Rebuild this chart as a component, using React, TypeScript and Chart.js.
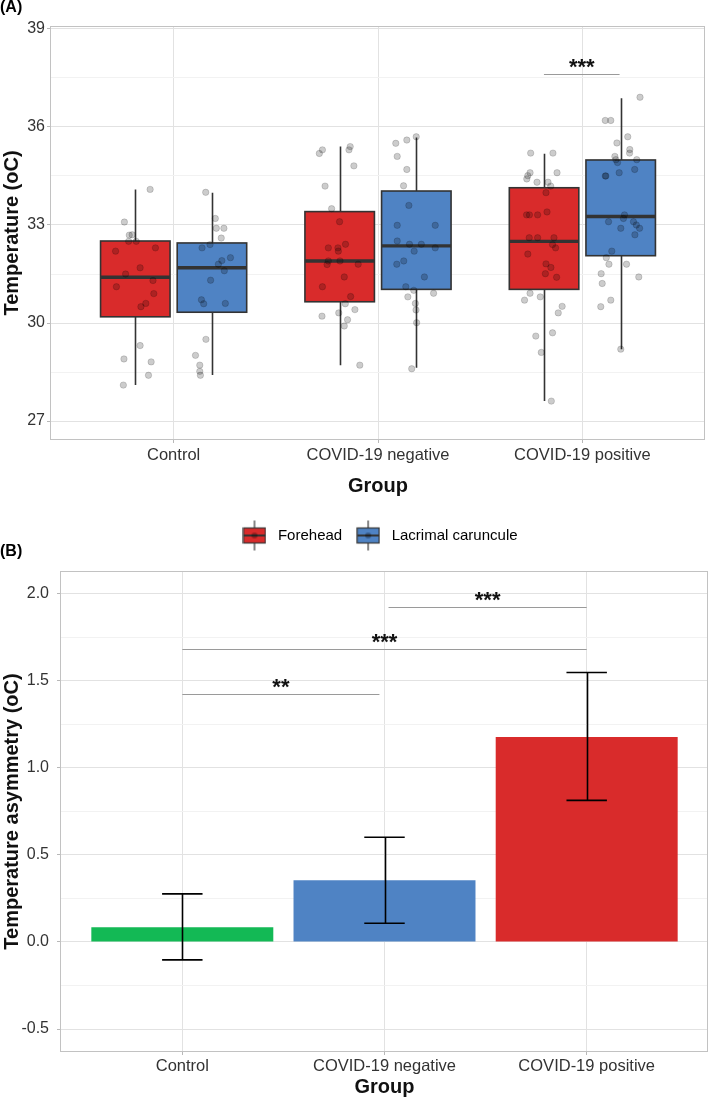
import React, { useEffect, useRef } from 'react';
import { Chart, registerables } from 'chart.js';

Chart.register(...registerables);

const FONT = '"Liberation Sans", Arial, Helvetica, sans-serif';
Chart.defaults.font.family = FONT;

// ---------- Panel A data ----------
const groups = ['Control', 'COVID-19 negative', 'COVID-19 positive'];
const sites = ['Forehead', 'Lacrimal caruncule'];

// [min, q1, median, q3, max]
const foreheadBox = [
  [28.1, 30.19, 31.4, 32.51, 34.09],
  [28.71, 30.65, 31.9, 33.41, 35.4],
  [27.61, 31.03, 32.5, 34.14, 35.18],
];
const lacrimalBox = [
  [28.41, 30.33, 31.69, 32.45, 33.99],
  [28.63, 31.03, 32.36, 34.04, 35.68],
  [29.2, 32.06, 33.26, 34.99, 36.88],
];

// [jitter offset from group centre (category units), temperature]
const foreheadPoints = [
  [[-0.115, 34.09], [-0.241, 33.09], [-0.217, 32.69], [-0.203, 32.7], [-0.22, 32.5], [-0.183, 32.5], [-0.284, 32.2], [-0.089, 32.3], [-0.164, 31.69], [-0.235, 31.5], [-0.101, 31.3], [-0.28, 31.11], [-0.097, 30.9], [-0.136, 30.6], [-0.16, 30.5], [-0.164, 29.31], [-0.243, 28.9], [-0.11, 28.81], [-0.123, 28.4], [-0.246, 28.1]],
  [[-0.287, 35.19], [-0.272, 35.3], [-0.142, 35.3], [-0.136, 35.4], [-0.118, 34.81], [-0.259, 34.19], [-0.227, 33.5], [-0.188, 33.1], [-0.159, 32.41], [-0.243, 32.3], [-0.196, 32.3], [-0.194, 32.2], [-0.243, 31.9], [-0.249, 31.79], [-0.186, 31.9], [-0.097, 31.8], [-0.165, 31.41], [-0.272, 31.11], [-0.134, 30.81], [-0.16, 30.59], [-0.274, 30.21], [-0.192, 30.31], [-0.113, 30.41], [-0.149, 30.1], [-0.165, 29.91], [-0.089, 28.71]],
  [[-0.253, 35.2], [-0.144, 35.2], [-0.256, 34.6], [-0.267, 34.51], [-0.272, 34.41], [-0.124, 34.6], [-0.222, 34.31], [-0.168, 34.31], [-0.155, 34.19], [-0.178, 33.99], [-0.173, 33.4], [-0.273, 33.31], [-0.259, 33.31], [-0.219, 33.31], [-0.26, 32.61], [-0.219, 32.61], [-0.139, 32.61], [-0.146, 32.4], [-0.131, 32.3], [-0.267, 32.11], [-0.178, 31.81], [-0.154, 31.7], [-0.181, 31.51], [-0.126, 31.4], [-0.256, 30.91], [-0.283, 30.7], [-0.206, 30.8], [-0.099, 30.51], [-0.118, 30.31], [-0.228, 29.6], [-0.146, 29.7], [-0.201, 29.1], [-0.152, 27.61]],
];
const lacrimalPoints = [
  [[0.157, 34.0], [0.204, 33.2], [0.209, 32.9], [0.246, 32.9], [0.233, 32.6], [0.139, 32.3], [0.178, 32.4], [0.278, 32.0], [0.236, 31.91], [0.219, 31.8], [0.248, 31.6], [0.181, 31.31], [0.136, 30.71], [0.147, 30.59], [0.253, 30.6], [0.158, 29.5], [0.107, 29.01], [0.128, 28.71], [0.128, 28.52], [0.131, 28.4]],
  [[0.087, 35.5], [0.141, 35.6], [0.187, 35.7], [0.094, 35.1], [0.141, 34.7], [0.125, 34.2], [0.151, 33.6], [0.094, 32.99], [0.28, 32.99], [0.094, 32.51], [0.154, 32.41], [0.212, 32.41], [0.28, 32.3], [0.177, 32.2], [0.126, 31.9], [0.092, 31.8], [0.227, 31.41], [0.136, 31.11], [0.175, 31.0], [0.272, 30.91], [0.146, 30.8], [0.183, 30.6], [0.186, 30.4], [0.189, 30.01], [0.165, 28.6]],
  [[0.282, 36.91], [0.112, 36.2], [0.139, 36.2], [0.222, 35.7], [0.169, 35.51], [0.232, 35.31], [0.231, 35.2], [0.159, 35.1], [0.266, 35.0], [0.164, 35.0], [0.172, 34.91], [0.256, 34.7], [0.18, 34.6], [0.112, 34.5], [0.115, 34.5], [0.206, 33.31], [0.201, 33.2], [0.128, 33.1], [0.25, 33.1], [0.264, 33.0], [0.188, 32.9], [0.28, 32.9], [0.257, 32.7], [0.144, 32.2], [0.117, 32.0], [0.13, 31.8], [0.216, 31.8], [0.092, 31.51], [0.097, 31.21], [0.276, 31.41], [0.139, 30.7], [0.09, 30.5], [0.188, 29.2]],
];

const tempTicks = [27, 28.5, 30, 31.5, 33, 34.5, 36, 37.5, 39];
const tempMajor = [27, 30, 33, 36, 39];

const sigAFrom = [1.812];
const sigATo = [2.182];
const sigAY = [37.62];
const sigALabels = ['***'];

// ---------- Panel B data ----------
const asymMeans = [0.085, 0.354, 1.177];
const asymLow = [-0.103, 0.107, 0.813];
const asymHigh = [0.276, 0.601, 1.547];
const asymTicks = [-0.5, -0.25, 0, 0.25, 0.5, 0.75, 1, 1.25, 1.5, 1.75, 2];
const asymMajor = [-0.5, 0, 0.5, 1, 1.5, 2];

const sigBFrom = [0, 0, 1.02];
const sigBTo = [0.975, 2, 2];
const sigBY = [1.422, 1.68, 1.925];
const sigBLabels = ['**', '***', '***'];

// ---------- styles ----------
const RED = '#D92B2B';
const BLUE = '#4F83C4';
const GREEN = '#13B955';
const siteColors = [RED, BLUE];
const barColors = [GREEN, BLUE, RED];
const DODGE = [-0.1875, 0.1875];
const BOX_HALF = 0.17;
const CAP_HALF = 0.1;
const GRID_MAJOR = '#e2e2e2';
const GRID_MINOR = '#f2f2f2';
const TICK_COL = '#b8b8b8';
const BORDER_COL = '#c2c2c2';
const LABEL_COL = '#333333';

const isIn = (v: number, list: number[]) => list.some((m) => Math.abs(m - v) < 1e-6);

const borderPlugin = {
  id: 'panelBorder',
  afterDraw(chart: any) {
    const { ctx, chartArea: a } = chart;
    ctx.save();
    ctx.strokeStyle = BORDER_COL;
    ctx.lineWidth = 1;
    const l = Math.round(a.left) - 0.5;
    const t = Math.round(a.top) - 0.5;
    const r = Math.round(a.right) - 0.5;
    const b = Math.round(a.bottom) + 0.5;
    ctx.strokeRect(l, t, r - l, b - t);
    ctx.restore();
  },
};

const boxPlugin = {
  id: 'boxes',
  beforeDatasetsDraw(chart: any) {
    const { ctx, scales } = chart;
    const x = scales.x;
    const y = scales.y;
    ctx.save();
    [foreheadBox, lacrimalBox].forEach((boxes, s) => {
      boxes.forEach((st, g) => {
        const c = g + DODGE[s];
        const xl = x.getPixelForValue(c - BOX_HALF);
        const xr = x.getPixelForValue(c + BOX_HALF);
        const xc = Math.round(x.getPixelForValue(c)) + 0.5;
        const [mn, q1, md, q3, mx] = st.map((v) => y.getPixelForValue(v));
        ctx.strokeStyle = '#333333';
        ctx.lineWidth = 1.6;
        ctx.beginPath();
        ctx.moveTo(xc, mn);
        ctx.lineTo(xc, q1);
        ctx.moveTo(xc, q3);
        ctx.lineTo(xc, mx);
        ctx.stroke();
        ctx.fillStyle = siteColors[s];
        ctx.fillRect(xl, q3, xr - xl, q1 - q3);
        ctx.lineWidth = 1.6;
        ctx.strokeRect(xl, q3, xr - xl, q1 - q3);
        ctx.lineWidth = 3.4;
        ctx.beginPath();
        ctx.moveTo(xl, md);
        ctx.lineTo(xr, md);
        ctx.stroke();
      });
    });
    ctx.restore();
  },
};

function makeSigPlugin(from: number[], to: number[], ys: number[], labels: string[]) {
  return {
    id: 'signif',
    afterDatasetsDraw(chart: any) {
      const { ctx, scales } = chart;
      const x = scales.x;
      const y = scales.y;
      ctx.save();
      from.forEach((f, i) => {
        const x1 = x.getPixelForValue(f);
        const x2 = x.getPixelForValue(to[i]);
        const py = Math.round(y.getPixelForValue(ys[i])) + 0.5;
        ctx.strokeStyle = '#9a9a9a';
        ctx.lineWidth = 1;
        ctx.beginPath();
        ctx.moveTo(x1, py);
        ctx.lineTo(x2, py);
        ctx.stroke();
        ctx.fillStyle = '#111111';
        ctx.font = `bold 22px ${FONT}`;
        ctx.textAlign = 'center';
        ctx.textBaseline = 'alphabetic';
        ctx.fillText(labels[i], (x1 + x2) / 2, py - 1);
      });
      ctx.restore();
    },
  };
}

const errorBarPlugin = {
  id: 'errorBars',
  afterDatasetsDraw(chart: any) {
    const { ctx, scales } = chart;
    const x = scales.x;
    const y = scales.y;
    ctx.save();
    ctx.strokeStyle = '#000000';
    ctx.lineWidth = 1.6;
    asymMeans.forEach((_, i) => {
      const xc = Math.round(x.getPixelForValue(i)) + 0.5;
      const xl = x.getPixelForValue(i - CAP_HALF);
      const xr = x.getPixelForValue(i + CAP_HALF);
      const lo = y.getPixelForValue(asymLow[i]);
      const hi = y.getPixelForValue(asymHigh[i]);
      ctx.beginPath();
      ctx.moveTo(xc, lo);
      ctx.lineTo(xc, hi);
      ctx.moveTo(xl, lo);
      ctx.lineTo(xr, lo);
      ctx.moveTo(xl, hi);
      ctx.lineTo(xr, hi);
      ctx.stroke();
    });
    ctx.restore();
  },
};

function makeIcon(color: string) {
  const c = document.createElement('canvas');
  c.width = 24;
  c.height = 32;
  const g = c.getContext('2d')!;
  g.strokeStyle = '#333333';
  g.lineWidth = 1.2;
  g.beginPath();
  g.moveTo(12, 1);
  g.lineTo(12, 31);
  g.stroke();
  g.fillStyle = color;
  g.fillRect(1, 8.5, 22, 15);
  g.strokeRect(1, 8.5, 22, 15);
  g.lineWidth = 2;
  g.beginPath();
  g.moveTo(1, 16);
  g.lineTo(23, 16);
  g.stroke();
  g.fillStyle = 'rgba(0,0,0,0.3)';
  g.beginPath();
  g.arc(12, 16, 3, 0, Math.PI * 2);
  g.fill();
  return c;
}

function gridFor(major: number[]) {
  return {
    color: (ctx: any) => (isIn(ctx.tick?.value, major) ? GRID_MAJOR : GRID_MINOR),
    tickColor: (ctx: any) => (isIn(ctx.tick?.value, major) ? TICK_COL : 'rgba(0,0,0,0)'),
    lineWidth: 1,
    tickLength: 4,
    drawTicks: true,
  };
}

const xGrid = {
  color: GRID_MAJOR,
  tickColor: TICK_COL,
  lineWidth: 1,
  tickLength: 4,
  drawTicks: true,
  offset: false,
};

export default function App() {
  const refA = useRef<HTMLCanvasElement>(null);
  const refB = useRef<HTMLCanvasElement>(null);

  useEffect(() => {
    const icons = siteColors.map((c) => makeIcon(c));

    const chartA = new Chart(refA.current!, {
      type: 'scatter',
      data: {
        datasets: [foreheadPoints, lacrimalPoints].map((pts, s) => ({
          label: sites[s],
          data: pts.flatMap((grp, g) => grp.map(([dx, v]) => ({ x: g + dx, y: v }))),
          pointRadius: 3.2,
          pointHoverRadius: 3.2,
          pointBackgroundColor: 'rgba(0,0,0,0.2)',
          pointBorderColor: 'rgba(0,0,0,0.2)',
          pointBorderWidth: 0.8,
        })),
      },
      options: {
        responsive: false,
        animation: false,
        events: [],
        layout: { padding: { left: 0, right: 1, top: 0, bottom: 0 } },
        plugins: {
          tooltip: { enabled: false },
          title: {
            display: true,
            text: '(A)',
            align: 'start',
            color: '#000000',
            font: { size: 16, weight: 'bold', lineHeight: 1 },
            padding: { top: 0, bottom: 11 },
          },
          legend: {
            position: 'bottom',
            fullSize: false,
            onClick: () => {},
            labels: {
              usePointStyle: true,
              pointStyleWidth: 32,
              padding: 10,
              color: '#222222',
              font: { size: 15 },
              generateLabels: () =>
                sites.map((s, i) => ({
                  text: s,
                  pointStyle: icons[i],
                  fillStyle: siteColors[i],
                  strokeStyle: '#333333',
                  lineWidth: 0,
                  hidden: false,
                  datasetIndex: i,
                })),
            },
          },
        },
        scales: {
          x: {
            type: 'linear',
            min: -0.6,
            max: 2.6,
            offset: false,
            afterBuildTicks: (s: any) => {
              s.ticks = groups.map((_, i) => ({ value: i }));
            },
            afterFit: (s: any) => {
              s.height = 79;
            },
            ticks: {
              autoSkip: false,
              maxRotation: 0,
              padding: 3,
              color: LABEL_COL,
              font: { size: 16.5 },
              callback: (v: any) => groups[v] ?? '',
            },
            grid: xGrid,
            border: { display: false },
            title: {
              display: true,
              text: 'Group',
              color: '#111111',
              font: { size: 20, weight: 'bold' },
              padding: { top: 0, bottom: 20 },
            },
          },
          y: {
            type: 'linear',
            min: 26.45,
            max: 39.06,
            afterBuildTicks: (s: any) => {
              s.ticks = tempTicks.map((v) => ({ value: v }));
            },
            afterFit: (s: any) => {
              s.width = 51;
            },
            ticks: {
              padding: 2,
              color: LABEL_COL,
              font: { size: 16 },
              callback: (v: any) => (isIn(v, tempMajor) ? String(v) : ''),
            },
            grid: gridFor(tempMajor),
            border: { display: false },
            title: {
              display: true,
              text: 'Temperature (oC)',
              color: '#111111',
              font: { size: 20, weight: 'bold' },
              padding: { top: 0, bottom: 0 },
            },
          },
        },
      } as any,
      plugins: [boxPlugin, makeSigPlugin(sigAFrom, sigATo, sigAY, sigALabels), borderPlugin],
    });

    const chartB = new Chart(refB.current!, {
      type: 'bar',
      data: {
        datasets: [
          {
            label: 'Temperature asymmetry',
            data: asymMeans.map((v, i) => ({ x: i, y: v })),
            backgroundColor: barColors,
            borderWidth: 0,
            categoryPercentage: 1,
            barPercentage: 0.9,
          },
        ],
      },
      options: {
        responsive: false,
        animation: false,
        events: [],
        layout: { padding: { left: 0, right: 1, top: 0, bottom: 0 } },
        plugins: {
          tooltip: { enabled: false },
          legend: { display: false },
          title: {
            display: true,
            text: '(B)',
            align: 'start',
            color: '#000000',
            font: { size: 16, weight: 'bold', lineHeight: 1 },
            padding: { top: 0, bottom: 12 },
          },
        },
        scales: {
          x: {
            type: 'linear',
            min: -0.6,
            max: 2.6,
            offset: false,
            afterBuildTicks: (s: any) => {
              s.ticks = groups.map((_, i) => ({ value: i }));
            },
            afterFit: (s: any) => {
              s.height = 48;
            },
            ticks: {
              autoSkip: false,
              maxRotation: 0,
              padding: 2,
              color: LABEL_COL,
              font: { size: 16.5 },
              callback: (v: any) => groups[v] ?? '',
            },
            grid: xGrid,
            border: { display: false },
            title: {
              display: true,
              text: 'Group',
              color: '#111111',
              font: { size: 20, weight: 'bold' },
              padding: { top: 0, bottom: 0 },
            },
          },
          y: {
            type: 'linear',
            min: -0.626,
            max: 2.124,
            afterBuildTicks: (s: any) => {
              s.ticks = asymTicks.map((v) => ({ value: v }));
            },
            afterFit: (s: any) => {
              s.width = 61;
            },
            ticks: {
              padding: 8,
              color: LABEL_COL,
              font: { size: 16 },
              callback: (v: any) => (isIn(v, asymMajor) ? Number(v).toFixed(1) : ''),
            },
            grid: gridFor(asymMajor),
            border: { display: false },
            title: {
              display: true,
              text: 'Temperature asymmetry (oC)',
              color: '#111111',
              font: { size: 20, weight: 'bold' },
              padding: { top: 0, bottom: 0 },
            },
          },
        },
      } as any,
      plugins: [errorBarPlugin, makeSigPlugin(sigBFrom, sigBTo, sigBY, sigBLabels), borderPlugin],
    });

    return () => {
      chartA.destroy();
      chartB.destroy();
    };
  }, []);

  return (
    <div style={{ position: 'absolute', left: 0, top: 0, width: 709, height: 1099, background: '#ffffff' }}>
      <canvas ref={refA} width={709} height={553} style={{ position: 'absolute', left: 0, top: 0 }} />
      <canvas ref={refB} width={709} height={555} style={{ position: 'absolute', left: 0, top: 544 }} />
    </div>
  );
}
